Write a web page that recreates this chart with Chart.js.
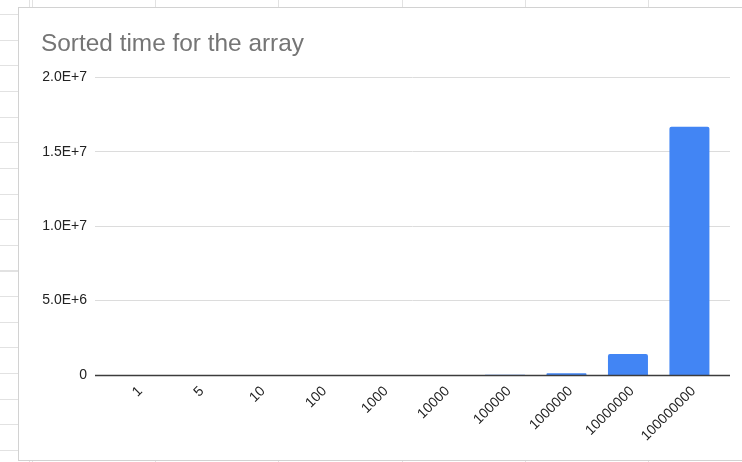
<!DOCTYPE html>
<html>
<head>
<meta charset="utf-8">
<script src="https://cdn.jsdelivr.net/npm/chart.js@4/dist/chart.umd.min.js"></script>
<style>
  html, body { margin: 0; padding: 0; }
  body {
    width: 742px; height: 462px; overflow: hidden; position: relative;
    background-color: #ffffff;
    background-image:
      repeating-linear-gradient(to bottom, #e2e2e2 0 1px, transparent 1px 25.65px),
      repeating-linear-gradient(to right, #e2e2e2 0 1px, transparent 1px 123.2px);
    background-position: 0 14px, 32px 0;
  }
  #card {
    position: absolute; left: 18px; top: 7px; width: 740px; height: 452px;
    background: #ffffff; border: 1px solid #d2d2d2;
  }
  #chart { position: absolute; left: 19px; top: 8px; }
</style>
</head>
<body>
<div id="card"></div>
<canvas id="chart" width="723" height="454"></canvas>
<script>
// Array sizes (categories) and measured sort times
const arraySizes = ['1', '5', '10', '100', '1000', '10000', '100000', '1000000', '10000000', '100000000'];
const sortTimes = [0, 0, 1, 6, 70, 900, 10500, 114000, 1410000, 16680000];
// Value-axis ticks
const yTicks = [0, 5000000, 10000000, 15000000, 20000000];

const fmtTick = v => v === 0 ? '0' : v.toExponential(1).toUpperCase();

// Baseline at zero, drawn on top of the bars
const zeroLine = {
  id: 'zeroLine',
  afterDatasetsDraw(chart) {
    const { ctx, chartArea, scales } = chart;
    const y = Math.round(scales.y.getPixelForValue(0)) + 0.5;
    ctx.save();
    ctx.strokeStyle = '#3c3c3c';
    ctx.lineWidth = 1.3;
    ctx.beginPath();
    ctx.moveTo(chartArea.left, y);
    ctx.lineTo(chartArea.right, y);
    ctx.stroke();
    ctx.restore();
  }
};

new Chart(document.getElementById('chart'), {
  type: 'bar',
  data: {
    datasets: [{
      data: sortTimes.map((v, i) => ({ x: i, y: v })),
      backgroundColor: '#4285f4',
      borderWidth: 0,
      inflateAmount: 0,
      borderRadius: { topLeft: 2, topRight: 2 },
      borderSkipped: 'start',
      barThickness: 40
    }]
  },
  plugins: [zeroLine],
  options: {
    responsive: false,
    animation: false,
    devicePixelRatio: 1,
    layout: { padding: { left: 22, right: 12, top: 0, bottom: 0 } },
    plugins: {
      legend: { display: false },
      tooltip: { enabled: false },
      title: {
        display: true,
        text: 'Sorted time for the array',
        align: 'start',
        color: '#757575',
        font: { family: 'Liberation Sans, Arial, sans-serif', size: 24.4, weight: 'normal' },
        padding: { top: 22, bottom: 18 }
      }
    },
    scales: {
      x: {
        type: 'linear',
        min: -0.67,
        max: 9.66,
        offset: false,
        grid: { display: false },
        border: { display: false },
        afterBuildTicks: s => { s.ticks = arraySizes.map((_, i) => ({ value: i })); },
        afterFit: s => { s.height = 87; },
        ticks: {
          autoSkip: false,
          minRotation: 45,
          maxRotation: 45,
          padding: 0,
          labelOffset: 4,
          color: '#222222',
          font: { family: 'Liberation Sans, Arial, sans-serif', size: 14 },
          callback: v => arraySizes[v]
        }
      },
      y: {
        min: 0,
        max: 20000000,
        afterBuildTicks: s => { s.ticks = yTicks.map(v => ({ value: v })); },
        afterFit: s => { s.width = 54; },
        grid: {
          drawTicks: false,
          color: '#dcdcdc',
          lineWidth: c => c.tick && c.tick.value === 0 ? 0 : 1
        },
        border: { display: false },
        ticks: {
          padding: 8,
          color: '#222222',
          font: { family: 'Liberation Sans, Arial, sans-serif', size: 14 },
          callback: v => fmtTick(v)
        }
      }
    }
  }
});
</script>
</body>
</html>
